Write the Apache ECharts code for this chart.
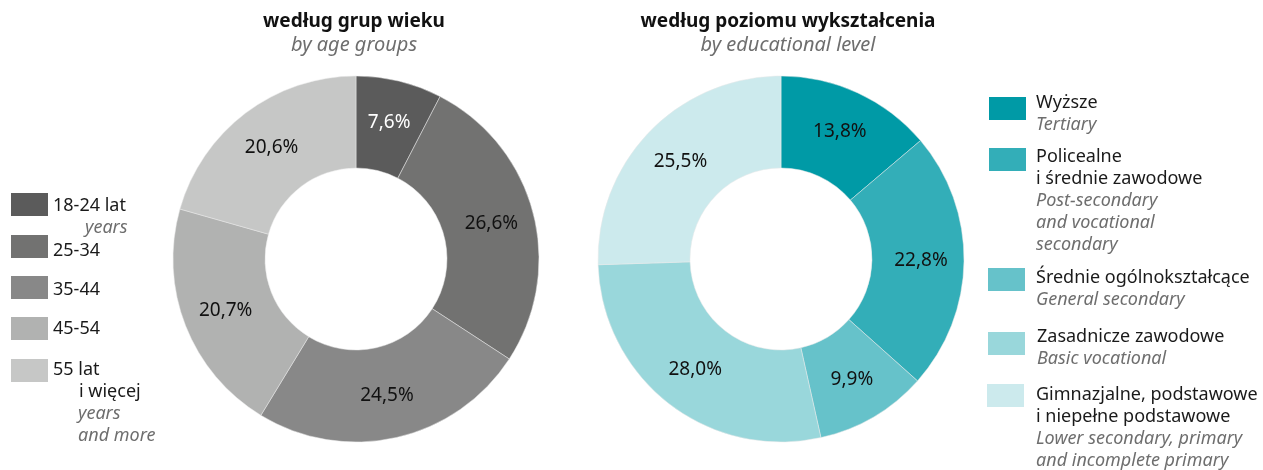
<!DOCTYPE html>
<html><head><meta charset="utf-8">
<script src="https://cdn.jsdelivr.net/npm/echarts@6/dist/echarts.min.js"></script>
<style>html,body{margin:0;padding:0;background:#fff}#c{width:1263px;height:470px}</style>
</head><body><div id="c"></div>
<script>
// ---- data ----
const ageCategories = ['18-24 lat', '25-34', '35-44', '45-54', '55 lat i więcej'];
const ageValues = [7.6, 26.6, 24.5, 20.7, 20.6];
const ageColors = ['#5b5b5b', '#727271', '#888888', '#b1b2b1', '#c6c7c6'];
const ageLegendMain = [['18-24 lat'], ['25-34'], ['35-44'], ['45-54'], ['55 lat', 'i więcej']];
const ageLegendSub = [['years'], [], [], [], ['years', 'and more']];

const eduCategories = ['Wyższe', 'Policealne i średnie zawodowe', 'Średnie ogólnokształcące', 'Zasadnicze zawodowe', 'Gimnazjalne, podstawowe i niepełne podstawowe'];
const eduValues = [13.8, 22.8, 9.9, 28.0, 25.5];
const eduColors = ['#009aa6', '#33aeb8', '#66c2ca', '#99d7db', '#cceaed'];
const eduLegendMain = [['Wyższe'], ['Policealne', 'i średnie zawodowe'], ['Średnie ogólnokształcące'], ['Zasadnicze zawodowe'], ['Gimnazjalne, podstawowe', 'i niepełne podstawowe']];
const eduLegendSub = [['Tertiary'], ['Post-secondary', 'and vocational', 'secondary'], ['General secondary'], ['Basic vocational'], ['Lower secondary, primary', 'and incomplete primary']];

const titles = [
  { text: 'według grup wieku', sub: 'by age groups' },
  { text: 'według poziomu wykształcenia', sub: 'by educational level' }
];

// ---- chart ----
const FONT = 'Noto Sans';
const chart = echarts.init(document.getElementById('c'), null, { renderer: 'canvas' });
const fmt = p => p.value.toFixed(1).replace('.', ',') + '%';

function pie(center, cats, vals, colors, labelColors) {
  return {
    type: 'pie',
    center: center,
    radius: [91, 183],
    startAngle: 90,
    clockwise: true,
    silent: true,
    avoidLabelOverlap: false,
    data: cats.map((c, i) => ({
      name: c, value: vals[i],
      itemStyle: { color: colors[i] },
      label: { color: labelColors[i] }
    })),
    itemStyle: { borderColor: '#e8e8e8', borderWidth: 0.5 },
    label: { show: true, position: 'inside', formatter: fmt, fontFamily: FONT, fontSize: 19 },
    labelLine: { show: false },
    emphasis: { disabled: true }
  };
}

const LH = 22;
const MAINC = '#1a1a1a', SUBC = '#6e6e6e';
function legendGraphics(mains, subs, colors, layout) {
  const els = [];
  layout.forEach((L, i) => {
    els.push({ type: 'rect', shape: { x: L.rx, y: L.ry, width: 37, height: 23 }, style: { fill: colors[i] }, silent: true });
    let y = L.ty;
    mains[i].forEach((t, j) => {
      els.push({ type: 'text', silent: true, style: { text: t, x: j === 0 ? L.tx : (L.tx2 || L.tx), y: y, fill: MAINC, fontFamily: FONT, fontSize: 18, verticalAlign: 'middle' } });
      y += LH;
    });
    subs[i].forEach(t => {
      els.push({ type: 'text', silent: true, style: { text: t, x: L.sx || L.tx, y: y, fill: SUBC, fontFamily: FONT, fontSize: 18, fontStyle: 'italic', verticalAlign: 'middle' } });
      y += LH;
    });
  });
  return els;
}

const ageLayout = [
  { rx: 11, ry: 193, tx: 53, ty: 206, sx: 85 },
  { rx: 11, ry: 235, tx: 53, ty: 251 },
  { rx: 11, ry: 276, tx: 53, ty: 290 },
  { rx: 11, ry: 317, tx: 53, ty: 329 },
  { rx: 11, ry: 359, tx: 53, ty: 370, tx2: 79, sx: 78 }
];
const eduLayout = [
  { rx: 989, ry: 97, tx: 1036, ty: 103 },
  { rx: 989, ry: 148, tx: 1036, ty: 157 },
  { rx: 988, ry: 268, tx: 1036, ty: 278 },
  { rx: 988, ry: 332, tx: 1037, ty: 337 },
  { rx: 987, ry: 384, tx: 1036, ty: 395 }
];

const titleCenters = [349, 783];
chart.setOption({
  animation: false,
  title: titles.map((t, i) => ({
    text: t.text, subtext: t.sub,
    left: titleCenters[i], top: 7, textAlign: 'center', itemGap: 4,
    textStyle: { fontFamily: FONT, fontSize: 19, fontWeight: 'bold', color: '#111' },
    subtextStyle: { fontFamily: FONT, fontSize: 20, fontStyle: 'italic', color: '#6e6e6e' }
  })),
  series: [
    pie(['356', '259'], ageCategories, ageValues, ageColors, ['#fff', '#111', '#111', '#111', '#111']),
    pie(['781', '259'], eduCategories, eduValues, eduColors, ['#111', '#111', '#111', '#111', '#111'])
  ],
  graphic: legendGraphics(ageLegendMain, ageLegendSub, ageColors, ageLayout)
    .concat(legendGraphics(eduLegendMain, eduLegendSub, eduColors, eduLayout))
});
</script></body></html>
